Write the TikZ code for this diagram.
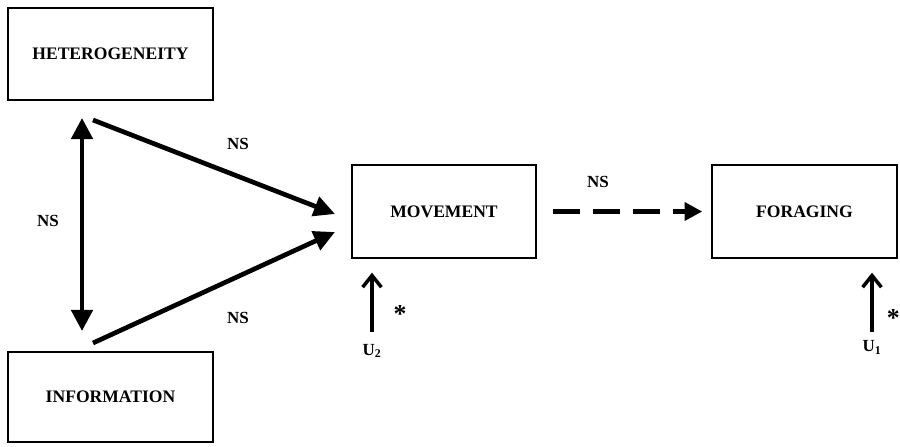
\documentclass[tikz,border=0pt]{standalone}
\usepackage{fontspec}
\setmainfont{Liberation Serif}
\usetikzlibrary{arrows.meta}
\begin{document}
\begin{tikzpicture}[
  box/.style={draw, line width=1.2pt, minimum width=#1, font=\fontsize{15}{17}\selectfont\bfseries, inner sep=0pt},
  box/.default=5.5cm,
  lbl/.style={font=\fontsize{14.5}{16}\selectfont\bfseries, inner sep=0pt},
  star/.style={font=\fontsize{22}{24}\selectfont\bfseries, inner sep=0pt},
  bigarrow/.style={line width=4pt, -{Triangle[length=18pt,width=17pt]}},
  dblarrow/.style={line width=4pt, {Triangle[length=18pt,width=18pt]}-{Triangle[length=18pt,width=18pt]}},
  dasharrow/.style={line width=4.2pt, dash pattern=on 23pt off 11pt, -{Triangle[length=15pt,width=15pt]}},
  uarrow/.style={line width=3pt, -{Straight Barb[length=10pt,width=16pt,line width=3pt]}}
]
\useasboundingbox (0,0) rectangle (27,13.38);

% boxes
\node[box=6.15cm, minimum height=2.76cm] (het) at (3.315,11.76) {HETEROGENEITY};
\node[box=6.15cm, minimum height=2.7cm] (inf) at (3.315,1.47) {INFORMATION};
\node[box=5.52cm, minimum height=2.79cm] (mov) at (13.32,7.035) {MOVEMENT};
\node[box=5.55cm, minimum height=2.79cm] (for) at (24.135,7.035) {FORAGING};

% connector end points
\coordinate (dtop) at (2.46,9.84);
\coordinate (dbot) at (2.46,3.45);
\coordinate (hs) at (2.79,9.78);
\coordinate (ht) at (10.05,6.96);
\coordinate (is) at (2.79,3.09);
\coordinate (it) at (10.05,6.42);
\coordinate (u2s) at (11.16,3.42);
\coordinate (u2t) at (11.16,5.2);
\coordinate (u1s) at (26.16,3.42);
\coordinate (u1t) at (26.16,5.2);

% connectors
\draw[dblarrow] (dbot) -- (dtop);
\draw[bigarrow] (hs) -- (ht);
\draw[bigarrow] (is) -- (it);
\draw[dasharrow] ([xshift=0.5cm]mov.east) -- ([xshift=-0.27cm]for.west);
\draw[uarrow] (u2s) -- (u2t);
\draw[uarrow] (u1s) -- (u1t);

% labels
\node[lbl] (ns1) at (7.14,9.06) {NS};
\node[lbl] (ns2) at (7.14,3.84) {NS};
\node[lbl] (ns3) at (1.44,6.75) {NS};
\node[lbl] (ns4) at (17.94,7.92) {NS};
\node[star] (st2) at (12.0,3.95) {*};
\node[star] (st1) at (26.8,3.85) {*};
\node[lbl] (u2) at (11.16,2.85) {U\textsubscript{2}};
\node[lbl] (u1) at (26.16,2.95) {U\textsubscript{1}};
\end{tikzpicture}
\end{document}
